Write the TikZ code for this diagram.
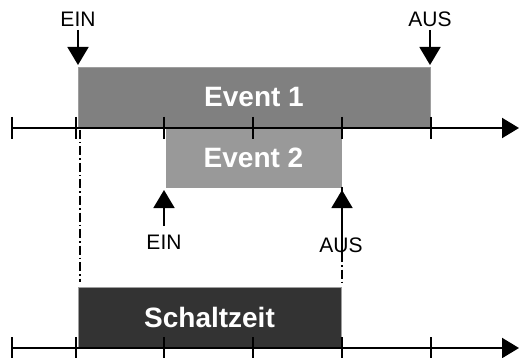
\documentclass[tikz,border=0pt]{standalone}
\usepackage{fontspec}
\setmainfont{Liberation Sans}
\usetikzlibrary{arrows.meta}
\definecolor{evone}{gray}{0.50}
\definecolor{evtwo}{gray}{0.60}
\definecolor{schalt}{gray}{0.20}
\definecolor{edgegray}{gray}{0.62}
\tikzset{
  axisline/.style={line width=2pt,-{Triangle[length=17pt,width=20pt]}},
  tickmark/.style={line width=2pt},
  evbox/.style={draw=edgegray,line width=0.8pt,inner sep=0pt,
    text=white,font=\bfseries\fontsize{28}{28}\selectfont},
  marklabel/.style={inner sep=0pt,font=\fontsize{21}{21}\selectfont},
  markarrow/.style={line width=1.6pt,-{Triangle[length=18pt,width=21pt]}},
  guide/.style={line width=1.5pt,dash pattern=on 9pt off 3pt on 1.5pt off 3pt}
}
\begin{document}
\begin{tikzpicture}[x=1pt,y=-1pt]
\useasboundingbox (0,0) rectangle (519,358);
% boxes
\node[evbox,fill=evone,minimum width=352pt,minimum height=61pt] (ev1) at (254,97.5) {Event 1};
\node[evbox,fill=evtwo,draw=evtwo,minimum width=175pt,minimum height=59pt] (ev2) at (253.5,157.5) {Event 2};
\node[evbox,fill=schalt,minimum width=263pt,minimum height=60pt] (sz) at (209.5,317) {Schaltzeit};
% guides
\coordinate (g1a) at (80,130);
\coordinate (g1b) at (80,282);
\coordinate (g2a) at (342,187);
\coordinate (g2b) at (342,282);
\draw[guide] (g1a) -- (g1b);
% axes
\coordinate (a1s) at (12,128);
\coordinate (a1e) at (519,128);
\coordinate (a2s) at (12,348);
\coordinate (a2e) at (519,348);
\draw[axisline] (a1s) -- (a1e);
\draw[axisline] (a2s) -- (a2e);
\foreach \x in {12,76,164,253,342,431}{
  \draw[tickmark] (\x,117) -- (\x,139);
  \draw[tickmark] (\x,337) -- (\x,359);
}
% markers
\node[marklabel] (ein1) at (78,19.5) {EIN};
\node[marklabel] (aus1) at (430,19.5) {AUS};
\node[marklabel] (ein2) at (164,242) {EIN};
\node[marklabel] (aus2) at (341,245.5) {AUS};
\coordinate (t1) at (78,65);
\coordinate (t2) at (430,65);
\coordinate (t3) at (164,190);
\coordinate (t4) at (342,190);
\draw[markarrow] (78,30) -- (t1);
\draw[markarrow] (430,30) -- (t2);
\draw[markarrow] (164,226) -- (t3);
\draw[markarrow] (342,262) -- (t4);
\draw[guide] (g2a) -- (g2b);
\end{tikzpicture}
\end{document}
